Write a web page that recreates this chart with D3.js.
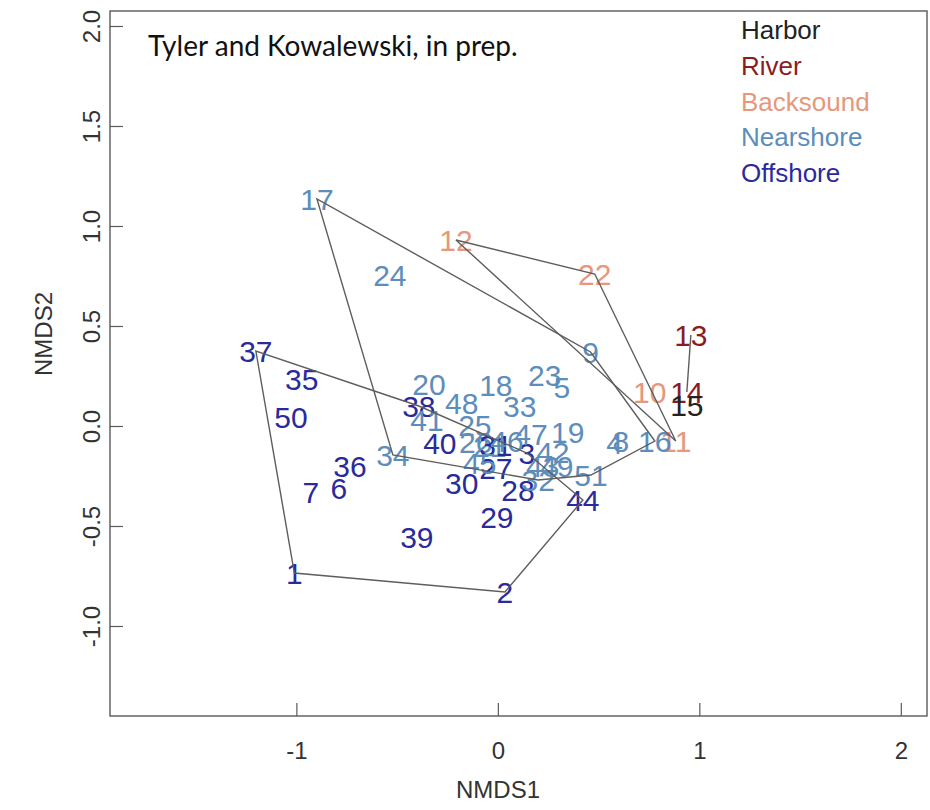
<!DOCTYPE html>
<html>
<head>
<meta charset="utf-8">
<script src="https://cdn.jsdelivr.net/npm/d3@7"></script>
<style>
  html, body { margin: 0; padding: 0; background: #fff; }
  svg { display: block; }
  text { font-family: "Liberation Sans", Arial, Helvetica, sans-serif; }
  text.note { font-family: Lato, "Open Sans", sans-serif; }
</style>
</head>
<body>
<svg id="chart" width="930" height="810"></svg>
<script>
// NMDS site scores, one entry per sampling site
const sites = [1,2,3,4,5,6,7,8,9,10,11,12,13,14,15,16,17,18,19,20,21,22,23,24,25,26,
               27,28,29,30,31,32,33,34,35,36,37,38,39,40,41,42,43,44,45,46,47,48,49,50,51];
const nmds1 = [-1.01, 0.035, 0.144, 0.58, 0.318, -0.789, -0.928, 0.61, 0.46, 0.754,
               0.883, -0.208, 0.958, 0.938, 0.938, 0.779, -0.898, -0.01, 0.347, -0.342,
               -0.04, 0.481, 0.233, -0.536, -0.114, -0.11, -0.01, 0.10, -0.005, -0.179,
               -0.01, 0.20, 0.109, -0.521, -0.973, -0.734, -1.201, -0.392, -0.402, -0.288,
               -0.352, 0.273, 0.223, 0.422, -0.09, 0.045, 0.164, -0.179, 0.293, -1.027, 0.462];
const nmds2 = [-0.735, -0.83, -0.135, -0.085, 0.195, -0.31, -0.33, -0.075, 0.37, 0.17,
               -0.075, 0.93, 0.455, 0.17, 0.105, -0.075, 1.135, 0.205, -0.03, 0.21,
               -0.10, 0.76, 0.255, 0.755, 0.005, -0.08, -0.21, -0.32, -0.455, -0.285,
               -0.095, -0.27, 0.10, -0.145, 0.235, -0.20, 0.375, 0.10, -0.555, -0.085,
               0.03, -0.13, -0.20, -0.37, -0.185, -0.075, -0.04, 0.115, -0.20, 0.045, -0.245];
const habitat = ["Offshore","Offshore","Offshore","Nearshore","Nearshore","Offshore","Offshore",
                 "Nearshore","Nearshore","Backsound","Backsound","Backsound","River","River",
                 "Harbor","Nearshore","Nearshore","Nearshore","Nearshore","Nearshore","Nearshore",
                 "Backsound","Nearshore","Nearshore","Nearshore","Nearshore","Offshore","Offshore",
                 "Offshore","Offshore","Offshore","Nearshore","Nearshore","Nearshore","Offshore",
                 "Offshore","Offshore","Offshore","Offshore","Offshore","Nearshore","Nearshore",
                 "Nearshore","Offshore","Nearshore","Nearshore","Nearshore","Nearshore","Nearshore",
                 "Offshore","Nearshore"];

// legend groups and their colours
const groups = ["Harbor", "River", "Backsound", "Nearshore", "Offshore"];
const groupColors = ["#222222", "#8b1c22", "#e6977c", "#5c8dbb", "#2a2a9c"];

const xTicks = [-1, 0, 1, 2];
const yTicks = [-1.0, -0.5, 0.0, 0.5, 1.0, 1.5, 2.0];

const svg = d3.select("#chart");
const plot = { left: 110, right: 927, top: 11, bottom: 716 };

const x = d3.scaleLinear().domain([-1.925, 2.13]).range([plot.left, plot.right]);
const y = d3.scaleLinear().domain([-1.45, 2.075]).range([plot.bottom, plot.top]);
const color = d3.scaleOrdinal().domain(groups).range(groupColors);

const pts = sites.map((s, i) => ({ id: s, x: nmds1[i], y: nmds2[i], g: habitat[i] }));

// frame
svg.append("rect")
  .attr("x", plot.left).attr("y", plot.top)
  .attr("width", plot.right - plot.left).attr("height", plot.bottom - plot.top)
  .attr("fill", "none").attr("stroke", "#5a5a5a").attr("stroke-width", 1.4);

// axes with inward ticks
const xAxis = svg.append("g").attr("transform", `translate(0,${plot.bottom})`)
  .call(d3.axisBottom(x).tickValues(xTicks).tickSizeInner(-13).tickSizeOuter(0).tickPadding(26)
        .tickFormat(d3.format("d")));
xAxis.select(".domain").remove();
xAxis.selectAll("line").attr("stroke", "#5a5a5a").attr("stroke-width", 1.2);
xAxis.selectAll("text").attr("font-size", 24).attr("fill", "#333")
  .text(d => d < 0 ? "-" + Math.abs(d) : d);

const yAxis = svg.append("g").attr("transform", `translate(${plot.left},0)`)
  .call(d3.axisLeft(y).tickValues(yTicks).tickSizeInner(-13).tickSizeOuter(0).tickPadding(0)
        .tickFormat(d => (d < 0 ? "-" : "") + Math.abs(d).toFixed(1)));
yAxis.select(".domain").remove();
yAxis.selectAll("line").attr("stroke", "#5a5a5a").attr("stroke-width", 1.2);
yAxis.selectAll("text")
  .attr("font-size", 24).attr("fill", "#333")
  .attr("x", null).attr("dy", null)
  .attr("text-anchor", "middle")
  .attr("transform", "translate(-10,0) rotate(-90)")
  .attr("y", 0);

// axis titles
svg.append("text").attr("x", 498).attr("y", 798)
  .attr("text-anchor", "middle").attr("font-size", 24).attr("fill", "#333").text("NMDS1");
svg.append("text").attr("transform", `translate(52,${y(0.5) + 8}) rotate(-90)`)
  .attr("text-anchor", "middle").attr("font-size", 24).attr("fill", "#333").text("NMDS2");

// site labels
svg.append("g").selectAll("text").data(pts).join("text")
  .attr("x", d => x(d.x)).attr("y", d => y(d.y))
  .attr("text-anchor", "middle").attr("dominant-baseline", "central")
  .attr("font-size", 30).attr("fill", d => color(d.g))
  .text(d => d.id);

// convex hulls per habitat
const hullG = svg.append("g");
groups.forEach(g => {
  const p = pts.filter(d => d.g === g).map(d => [x(d.x), y(d.y)]);
  if (p.length < 2) return;
  const h = p.length > 2 ? d3.polygonHull(p) : p;
  hullG.append("path")
    .attr("d", d3.line()(h) + "Z")
    .attr("fill", "none").attr("stroke", "#5e5e5e").attr("stroke-width", 1.4);
});

// legend
const leg = svg.append("g").attr("transform", "translate(741,30)");
groups.forEach((g, i) => {
  leg.append("text").attr("x", 0).attr("y", i * 35.8)
    .attr("dominant-baseline", "central")
    .attr("font-size", 26).attr("fill", color(g)).text(g);
});

// citation note
svg.append("text").attr("class", "note").attr("x", 148).attr("y", 56)
  .attr("font-size", 28).attr("fill", "#111")
  .text("Tyler and Kowalewski, in prep.");
</script>
</body>
</html>
